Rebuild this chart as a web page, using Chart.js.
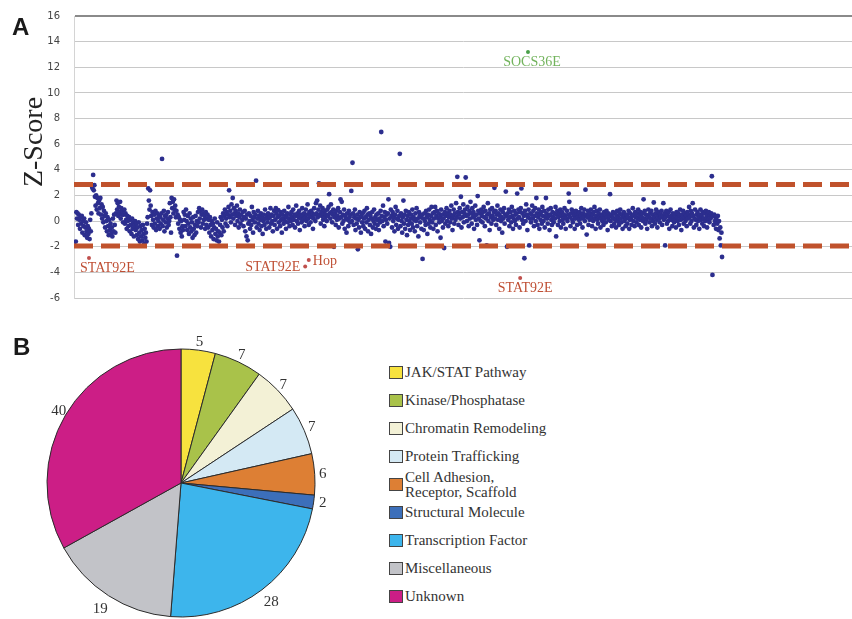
<!DOCTYPE html>
<html><head><meta charset="utf-8">
<script src="https://cdn.jsdelivr.net/npm/chart.js@4.4.0/dist/chart.umd.min.js"></script>
<style>
html,body{margin:0;padding:0;width:852px;height:619px;overflow:hidden;background:#fff;}
#cA{position:absolute;left:0;top:0;}
#cB{position:absolute;left:0;top:320px;}
.panel{position:absolute;font:bold 24px "Liberation Sans",Arial,sans-serif;line-height:24px;color:#1a1a1a;}
#legend{position:absolute;left:389px;top:359px;font:15px "Liberation Serif","Times New Roman",serif;color:#333;}
.row{display:flex;align-items:center;height:27.9px;}
.box{width:14px;height:13px;border:1px solid #444;box-sizing:border-box;margin-right:2px;flex:none;}
.lbl{line-height:15px;white-space:pre-line;}
</style></head>
<body>
<canvas id="cA" width="852" height="310"></canvas>
<canvas id="cB" width="362" height="326"></canvas>
<div class="panel" style="left:12px;top:15px;">A</div>
<div class="panel" style="left:13px;top:335px;">B</div>
<div id="legend"></div>
<script>
// ---------- Panel A data (screen order, Z-scores) ----------
const zScores = [
-1.6,0.7,0.2,0.6,-0.3,0.5,0.1,-0.6,0.3,-0.2,0.4,-0.9,0.0,-0.4,0.2,-1.1,-0.5,-0.1,-0.8,-1.3,
-0.4,-1.0,-0.6,-1.4,0.1,-0.8,0.6,2.7,2.55,3.6,2.4,2.8,1.9,1.2,2.0,0.9,1.8,1.4,0.6,1.6,
1.0,1.8,0.5,1.3,0.2,1.1,-0.1,0.8,0.4,-0.5,0.6,0.0,-0.8,0.3,-0.4,-1.1,0.1,-0.7,-0.2,-1.0,
-0.5,-1.2,0.2,-0.8,0.5,-0.3,-0.9,0.6,1.6,0.9,1.4,0.4,1.1,0.7,1.5,0.2,1.0,0.5,0.8,-0.1,
0.5,0.9,-0.2,0.6,0.1,-0.6,0.4,0.0,-0.4,0.3,-0.8,0.1,-0.3,-1.0,0.2,-0.6,-0.1,-1.2,-0.4,0.0,
-0.7,-0.2,-1.1,-0.5,-1.4,-0.1,-0.9,-1.6,-0.4,-1.2,-0.7,-1.5,-0.3,-1.0,-1.8,-0.6,-1.3,-0.9,-1.6,-0.2,
0.3,2.55,1.6,0.9,2.4,1.2,0.4,-0.3,0.7,0.1,-0.5,0.5,-0.2,0.8,-0.7,0.2,0.6,-0.4,0.0,0.4,
-0.6,0.3,-0.2,0.6,4.85,-0.4,0.1,0.8,-0.8,0.4,-0.1,0.5,-0.5,0.2,0.7,-0.3,0.0,1.4,0.3,-0.9,
1.8,1.0,1.5,0.6,1.7,0.9,1.2,0.3,0.8,-2.7,0.5,-0.2,0.3,-0.6,0.1,-0.9,0.0,-1.2,-0.4,-0.7,
0.7,0.1,0.5,-0.4,0.9,0.0,-0.7,0.4,-0.2,-1.0,0.6,-0.5,0.2,-0.8,-0.1,-1.3,0.3,-0.6,-1.1,-0.3,
0.4,-0.9,0.0,-0.4,0.7,-0.1,1.0,0.2,0.8,-0.5,0.5,0.9,-0.2,0.6,0.1,0.4,-0.6,0.7,-0.3,0.2,
0.5,-0.5,0.1,-0.9,0.3,-0.3,-1.2,0.0,-0.7,-0.2,-1.4,-0.5,0.2,-1.0,-0.6,-1.5,-0.1,-1.2,-0.8,-1.6,
-0.9,-0.3,0.3,-1.1,0.1,-0.5,0.6,-0.8,0.4,0.9,-0.2,0.2,0.7,-0.4,0.5,1.1,2.4,0.3,0.8,-0.1,
1.3,0.5,1.8,0.2,1.0,0.6,-0.3,0.8,0.4,1.2,0.0,0.6,-0.5,0.3,0.9,-0.2,0.5,1.5,0.1,0.7,
-0.4,0.3,0.8,-0.8,0.2,-1.2,0.5,-1.5,-0.2,0.6,0.0,-0.6,0.4,-0.3,1.1,0.1,-0.9,0.7,0.3,-0.1,
0.5,3.15,-0.5,0.2,0.8,-0.2,0.4,-0.7,0.1,0.6,-0.4,0.3,-1.0,0.0,0.5,-0.3,0.9,0.2,-0.6,0.4,
-0.1,0.6,0.2,-0.5,0.3,1.0,-0.2,0.5,0.0,-0.8,0.4,0.8,-0.3,0.1,1.0,0.6,-0.6,0.3,0.85,-0.1,
0.4,-0.4,0.7,0.1,-0.9,0.5,0.2,-0.2,0.8,0.0,0.4,-0.6,0.3,0.6,-0.1,1.1,0.2,-0.4,0.5,0.0,
0.7,0.3,-0.3,0.9,0.1,0.5,-0.5,0.4,1.2,0.0,0.6,-0.2,0.3,0.8,-0.7,0.2,0.5,-0.1,1.0,0.4,
0.1,0.6,-0.4,0.3,0.9,0.0,0.5,1.3,0.2,-0.3,0.7,0.4,-0.1,0.8,0.3,0.6,-0.6,0.2,1.0,0.5,
0.0,1.4,0.6,1.6,0.3,0.9,2.95,0.5,1.2,-0.2,0.7,0.4,1.0,0.1,0.6,-0.4,0.8,0.3,0.5,0.0,
0.9,0.4,1.1,2.1,0.6,0.2,1.3,0.7,-0.1,0.5,0.9,-2.0,0.3,0.6,-0.3,0.8,0.1,0.4,1.0,-0.5,
0.2,0.7,1.7,0.3,1.5,-0.2,0.5,0.0,0.9,-0.6,0.4,0.2,-0.9,0.6,0.1,-0.4,0.8,0.3,-0.1,0.5,
2.35,0.0,4.55,0.6,-0.3,0.3,0.9,-0.7,0.2,-0.2,0.5,-2.2,0.1,-0.5,0.7,0.3,-0.9,0.4,-0.1,0.6,
-0.4,0.2,0.8,-0.6,0.3,-0.1,1.0,0.5,-0.8,0.1,0.6,-0.3,0.4,-1.0,0.2,0.7,-0.5,0.0,0.9,-0.2,
0.3,-0.6,0.5,0.1,-0.3,0.6,-0.7,0.2,-0.1,0.8,6.95,0.4,0.0,1.2,-0.4,0.3,0.7,-1.6,0.1,0.5,
-0.2,0.6,1.7,-1.7,0.2,-2.0,0.9,0.4,-0.5,0.7,0.0,0.3,-0.8,0.5,1.1,-0.3,0.2,0.8,-0.6,0.1,
0.4,5.25,-0.4,0.6,0.0,-0.9,0.3,1.6,-0.2,0.5,-0.6,0.8,0.1,-1.1,0.4,-0.3,0.7,0.0,-0.7,0.2,
0.5,-0.2,0.9,-0.5,0.3,0.1,-0.8,0.6,0.0,1.0,-0.4,0.2,-1.2,0.7,0.4,-0.1,0.3,-0.6,0.5,-2.95,
0.2,-0.7,0.6,0.0,-0.3,0.8,0.3,-1.0,0.5,-0.2,0.9,0.1,-0.5,0.4,1.1,-0.1,0.6,-0.6,0.2,0.7,
1.1,-0.3,0.4,0.8,-0.8,0.2,0.6,-0.1,0.3,-1.3,0.9,0.0,0.5,-0.5,0.2,-2.1,0.7,-0.2,0.4,1.0,
0.0,0.6,-0.4,0.3,0.8,-0.1,0.5,1.2,0.2,-0.7,0.4,0.9,-0.2,0.6,0.1,1.4,0.3,3.45,0.7,-0.3,
0.5,1.0,0.2,1.9,-0.5,0.7,0.3,1.3,-0.1,0.6,0.9,3.4,0.4,0.0,1.1,0.5,-0.4,0.8,0.2,1.5,
0.6,-0.2,1.0,0.3,0.7,-0.6,0.4,1.2,0.1,0.5,-0.3,1.95,0.8,0.2,-1.5,0.6,0.0,0.9,0.4,-0.1,
0.7,1.1,0.3,-0.4,0.8,0.2,-1.9,0.5,1.4,0.0,0.6,-0.7,0.9,0.3,-0.2,1.0,0.4,0.1,0.7,2.6,
0.2,0.8,-0.3,0.5,1.2,0.1,0.6,-0.6,0.4,0.9,0.0,0.3,-0.9,0.7,0.2,1.0,-0.2,0.5,2.3,0.4,
-2.0,0.6,0.1,0.9,-0.4,0.3,0.7,-0.1,1.1,0.4,-0.6,0.2,0.8,0.0,0.5,-0.3,0.6,2.15,0.2,0.9,
0.3,-0.5,0.7,1.0,2.55,0.1,0.6,-0.2,0.4,-2.9,0.8,0.0,1.3,0.5,-0.7,0.3,0.9,-1.9,0.2,0.6,
-0.1,0.5,1.2,0.2,0.8,-0.4,0.4,1.0,0.0,1.8,0.6,-0.3,0.3,0.9,-0.6,0.5,0.1,0.7,-0.2,1.1,
0.4,0.0,0.8,-0.5,0.3,1.8,0.6,0.2,-0.2,0.9,0.4,-0.7,0.5,1.0,0.1,-0.3,0.7,0.3,-0.1,0.6,
0.2,1.1,-1.2,0.5,0.8,-0.3,0.3,0.6,0.0,0.9,-0.5,0.4,0.7,0.1,-0.2,0.5,1.0,0.3,-0.6,0.2,
0.8,0.0,0.5,2.15,1.5,0.3,-0.4,0.6,0.9,0.1,-0.1,0.7,0.4,-0.6,0.2,0.8,0.5,-0.3,0.3,0.6,
0.1,0.7,-0.2,0.4,1.0,0.2,-0.5,0.6,0.3,0.9,0.0,2.45,0.5,-1.05,0.3,0.8,-0.3,0.4,0.1,0.6,
0.9,0.3,-0.4,0.5,0.0,0.7,1.1,0.2,-0.6,0.4,0.8,0.1,-0.2,0.6,0.3,0.9,-0.5,0.2,0.5,0.0,
0.4,-0.3,0.7,0.2,0.5,-0.1,0.8,0.3,-0.7,0.6,0.1,0.4,2.1,0.0,0.5,-0.4,0.3,0.7,0.2,-0.2,
0.6,0.1,-0.5,0.4,0.8,0.0,0.3,-0.3,0.6,0.9,0.2,-0.1,0.5,-0.6,0.3,0.7,0.0,0.4,-0.4,0.2,
0.5,-0.2,0.3,0.8,-0.6,0.1,0.6,0.2,-0.3,0.4,1.0,0.0,0.5,-0.4,0.7,0.3,-0.1,0.6,0.2,0.9,
-0.3,0.4,0.1,0.7,-0.5,0.3,0.6,0.0,1.7,0.2,0.8,-0.2,0.5,0.1,-0.6,0.4,0.9,0.3,-0.1,0.6,
0.2,0.8,-0.4,0.5,0.0,1.45,0.3,-0.2,0.6,0.9,0.1,-0.5,0.4,0.7,0.2,-0.1,0.5,0.3,0.8,-0.3,
0.4,1.4,0.1,0.6,-1.9,0.3,0.8,-0.2,0.5,0.0,0.7,-0.6,0.3,0.9,0.1,0.4,-0.4,0.6,0.2,-0.1,
0.5,0.2,-0.5,0.7,0.3,0.0,0.6,-0.3,0.4,0.9,0.1,-0.7,0.5,0.2,0.8,-0.2,0.3,0.6,0.0,0.4,
-0.4,0.7,0.2,0.5,1.1,0.3,-0.2,0.8,0.0,0.6,1.4,0.4,-0.5,0.2,0.9,0.1,-0.3,0.5,0.7,0.0,
0.3,-0.6,0.5,0.9,0.1,0.4,-0.2,0.7,0.2,-0.4,0.6,0.0,0.8,0.3,-0.5,0.5,0.1,0.7,-0.1,0.4,
0.2,0.6,3.5,-4.2,0.4,-0.3,0.5,0.0,0.3,-0.6,0.1,-0.2,0.4,-0.7,0.0,-1.35,-0.5,-1.9,-0.9,-2.8
];
const geneNames = ['STAT92E','STAT92E','Hop','STAT92E','SOCS36E'];
const genePos   = [22, 383, 389, 742, 755];
const geneZ     = [-2.88, -3.55, -3.03, -4.44, 13.19];
const upperThreshold = 2.85;
const lowerThreshold = -1.95;
const yTicks = [-6,-4,-2,0,2,4,6,8,10,12,14,16];

// ---------- Panel B data ----------
const categories = ['JAK/STAT Pathway','Kinase/Phosphatase','Chromatin Remodeling','Protein Trafficking','Cell Adhesion,\nReceptor, Scaffold','Structural Molecule','Transcription Factor','Miscellaneous','Unknown'];
const geneCounts = [5,7,7,7,6,2,28,19,40];
const sliceColors = ['#f7e23e','#a9c24a','#f3f1d6','#d4e9f4','#dd7f34','#3c6fba','#3db5ec','#c2c3c8','#cc1e86'];

// ---------- Panel A chart ----------
const xMin = -3, xMax = 1296;
const geneColors = ['#c0504d','#c0504d','#c0504d','#c0504d','#4aa04a'];
const labelColors = ['#bf4f34','#bf4f34','#bf4f34','#bf4f34','#72b35c'];
// label placement relative to its point: [dx, dy, align]
const labelPlace = [[-9,10.5,'left'],[-5,1,'right'],[4,1,'left'],[5,10.5,'center'],[4,10,'center']];

const annotPlugin = {
  id:'annot',
  afterDatasetsDraw(chart){
    const c = chart.ctx, xs = chart.scales.x, ys = chart.scales.y;
    c.save();
    c.font = '14px "Liberation Serif","Times New Roman",serif';
    c.textBaseline = 'middle';
    geneNames.forEach((n,k)=>{
      const px = xs.getPixelForValue(genePos[k]), py = ys.getPixelForValue(geneZ[k]);
      const p = labelPlace[k];
      c.fillStyle = labelColors[k];
      c.textAlign = p[2];
      c.fillText(n, px+p[0], py+p[1]);
    });
    c.restore();
  },
  afterDraw(chart){
    const c = chart.ctx;
    c.save();
    c.translate(42,142);
    c.rotate(-Math.PI/2);
    c.font = '28px "Liberation Serif","Times New Roman",serif';
    c.fillStyle = '#222';
    c.textAlign = 'center';
    c.textBaseline = 'alphabetic';
    c.fillText('Z-Score',0,0);
    c.restore();
  }
};

new Chart(document.getElementById('cA'), {
  type:'scatter',
  data:{datasets:[
    {type:'line', data:[{x:xMin,y:upperThreshold},{x:xMax,y:upperThreshold}], borderColor:'#c0522c', borderWidth:5, borderDash:[19,8], pointRadius:0, order:0},
    {type:'line', data:[{x:xMin,y:lowerThreshold},{x:xMax,y:lowerThreshold}], borderColor:'#c0522c', borderWidth:5, borderDash:[19,8], pointRadius:0, order:0},
    {data: genePos.map((x,k)=>({x:x,y:geneZ[k]})), backgroundColor:geneColors, pointRadius:2, borderWidth:0, order:1},
    {data: zScores.map((v,i)=>({x:i,y:v})), backgroundColor:'#2c2e8e', pointRadius:2.4, borderWidth:0, order:2}
  ]},
  options:{
    responsive:false, animation:false, events:[],
    plugins:{legend:{display:false}, tooltip:{enabled:false}},
    layout:{autoPadding:false, padding:{top:16,bottom:12,left:0,right:0}},
    scales:{
      x:{type:'linear', display:false, min:xMin, max:xMax},
      y:{min:-6, max:16,
         afterBuildTicks:(s)=>{ s.ticks = yTicks.map(v=>({value:v})); },
         ticks:{padding:0, font:{family:'"DejaVu Sans",Verdana,sans-serif', size:10}, color:'#444'},
         grid:{drawTicks:true, tickLength:14, tickColor:'rgba(0,0,0,0)',
               color:(ctx)=> ctx.tick && ctx.tick.value===16 ? '#8a8a8a' : '#c8c8c8',
               lineWidth:(ctx)=> ctx.tick && ctx.tick.value===16 ? 2 : 1},
         border:{display:true, color:'#d4d4d4', width:1},
         afterFit:(s)=>{ s.width = 74; }
      }
    }
  },
  plugins:[annotPlugin]
});

// ---------- Panel B chart ----------
const pieLabels = {
  id:'pieLabels',
  afterDatasetsDraw(chart){
    const c = chart.ctx;
    const meta = chart.getDatasetMeta(0);
    c.save();
    c.font = '15px "Liberation Serif","Times New Roman",serif';
    c.fillStyle = '#333';
    c.textAlign = 'center';
    c.textBaseline = 'middle';
    meta.data.forEach((arc,i)=>{
      const p = arc.getProps(['x','y','startAngle','endAngle','outerRadius'], true);
      const mid = (p.startAngle + p.endAngle)/2;
      const r = p.outerRadius + 8 + 9*Math.max(0, Math.sin(mid));
      c.fillText(String(geneCounts[i]), p.x + r*Math.cos(mid), p.y + r*Math.sin(mid));
    });
    c.restore();
  }
};

new Chart(document.getElementById('cB'), {
  type:'pie',
  data:{labels:categories, datasets:[{data:geneCounts, backgroundColor:sliceColors, borderColor:'#2b2b2b', borderWidth:1, radius:134}]},
  options:{responsive:false, animation:false, events:[],
    plugins:{legend:{display:false}, tooltip:{enabled:false}},
    layout:{padding:0}},
  plugins:[pieLabels]
});

// ---------- Legend ----------
const lg = document.getElementById('legend');
categories.forEach((name,i)=>{
  const row = document.createElement('div'); row.className='row';
  const b = document.createElement('div'); b.className='box'; b.style.background = sliceColors[i];
  const t = document.createElement('div'); t.className='lbl'; t.textContent = name;
  row.appendChild(b); row.appendChild(t); lg.appendChild(row);
});
</script>
</body></html>
